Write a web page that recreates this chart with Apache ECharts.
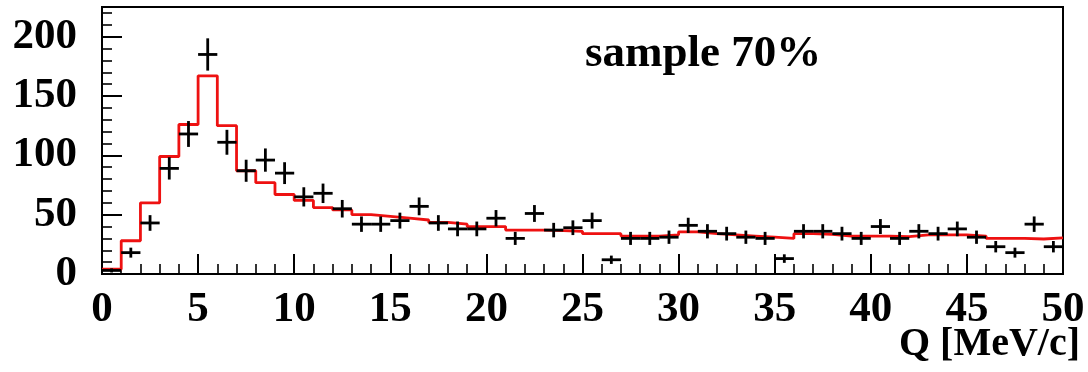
<!DOCTYPE html>
<html>
<head>
<meta charset="utf-8">
<script src="https://cdn.jsdelivr.net/npm/echarts@6/dist/echarts.min.js"></script>
<style>
  html, body { margin: 0; padding: 0; background: #fff; }
  #chart { width: 1088px; height: 372px; }
</style>
</head>
<body>
<div id="chart"></div>
<script>
// Lower edge of each 1 MeV/c bin in Q
const binLow = [0, 1, 2, 3, 4, 5, 6, 7, 8, 9, 10, 11, 12, 13, 14, 15, 16, 17, 18, 19,
  20, 21, 22, 23, 24, 25, 26, 27, 28, 29, 30, 31, 32, 33, 34, 35, 36, 37, 38, 39,
  40, 41, 42, 43, 44, 45, 46, 47, 48, 49];
const binWidth = 1;

// Measured counts per bin and their statistical uncertainties
const counts = [3, 18, 43, 89, 118, 185, 111, 87, 96, 85, 65, 68, 55, 42, 42, 45, 57, 43, 38, 38,
  47, 30, 51, 37, 39, 45, 12, 30, 30, 31, 41, 36, 34, 31, 30, 13, 36, 36, 34, 30,
  40, 30, 36, 34, 38, 31, 23, 18, 42, 23];
const countErrors = [1.7, 4.2, 6.6, 9.4, 10.9, 13.6, 10.5, 9.3, 9.8, 9.2, 8.1, 8.2, 7.4, 6.5, 6.5, 6.7, 7.5, 6.6, 6.2, 6.2,
  6.9, 5.5, 7.1, 6.1, 6.2, 6.7, 3.5, 5.5, 5.5, 5.6, 6.4, 6.0, 5.8, 5.6, 5.5, 3.6, 6.0, 6.0, 5.8, 5.5,
  6.3, 5.5, 6.0, 5.8, 6.2, 5.6, 4.8, 4.2, 6.5, 4.8];

// Model expectation per bin (red histogram)
const modelValues = [4, 28, 60, 99, 126, 167, 125, 87, 77, 67, 62, 56, 54, 50, 48.5, 47, 45.5, 43.5, 42, 40,
  40, 37, 37, 36.5, 36, 34, 34, 32, 32, 33, 35.5, 34, 33, 32, 31, 30, 34, 33.5, 32, 32,
  32, 31.5, 33, 33, 33, 32, 30, 30, 29.5, 30.5];

// Axis tick labels
const xTickLabels = [0, 5, 10, 15, 20, 25, 30, 35, 40, 45, 50];
const yTickLabels = [0, 50, 100, 150, 200];

const labelFont = { fontFamily: 'Liberation Serif', fontWeight: 'bold', fontSize: 43, lineHeight: 43, color: '#000' };

// Step outline: left edge of every bin, closed at the right edge of the last bin
const histLine = binLow.map((x, i) => [x, modelValues[i]]);
histLine.push([binLow[binLow.length - 1] + binWidth, modelValues[modelValues.length - 1]]);

const points = binLow.map((x, i) => [x + binWidth / 2, counts[i], countErrors[i]]);

const chart = echarts.init(document.getElementById('chart'), null, { renderer: 'canvas' });

chart.setOption({
  animation: false,
  backgroundColor: '#fff',
  grid: {
    left: 102, right: 25, top: 7, bottom: 98,
    containLabel: false, outerBoundsMode: 'none',
    show: true, borderColor: '#000', borderWidth: 2, backgroundColor: 'transparent'
  },
  xAxis: {
    type: 'value', min: 0, max: 50, interval: 5,
    axisLine: { show: true, onZero: false, lineStyle: { color: '#000', width: 2 } },
    axisTick: { show: true, inside: true, length: 20, lineStyle: { color: '#000', width: 2 } },
    minorTick: { show: true, splitNumber: 5, length: 10, lineStyle: { color: '#000', width: 1.6 } },
    splitLine: { show: false }, minorSplitLine: { show: false },
    axisLabel: Object.assign({
      margin: 14, showMinLabel: true, showMaxLabel: true, hideOverlap: false,
      formatter: v => (xTickLabels.includes(v) ? String(v) : '')
    }, labelFont)
  },
  yAxis: [
    {
      // minor ticks every 10
      type: 'value', min: 0, max: 225, interval: 10, position: 'left',
      axisLine: { show: true, onZero: false, lineStyle: { color: '#000', width: 2 } },
      axisTick: { show: true, inside: true, length: 10, lineStyle: { color: '#000', width: 1.6 } },
      axisLabel: { show: false },
      splitLine: { show: false }
    },
    {
      // major ticks and labels every 50
      type: 'value', min: 0, max: 225, interval: 50, position: 'left', offset: 0,
      axisLine: { show: true, onZero: false, lineStyle: { color: '#000', width: 2 } },
      axisTick: { show: true, inside: true, length: 20, lineStyle: { color: '#000', width: 2 } },
      axisLabel: Object.assign({
        margin: 25, showMinLabel: true, showMaxLabel: false, hideOverlap: false,
        formatter: v => (yTickLabels.includes(v) ? String(v) : '')
      }, labelFont),
      splitLine: { show: false }
    }
  ],
  series: [
    {
      name: 'model',
      type: 'line',
      yAxisIndex: 0,
      step: 'end',
      data: histLine,
      symbol: 'none',
      lineStyle: { color: '#ee1111', width: 2.8 },
      z: 2
    },
    {
      name: 'data',
      type: 'custom',
      yAxisIndex: 0,
      data: points,
      z: 3,
      renderItem: function (params, api) {
        const x = api.value(0), y = api.value(1), e = api.value(2);
        const pL = api.coord([x - binWidth / 2, y]);
        const pR = api.coord([x + binWidth / 2, y]);
        const pT = api.coord([x, y + e]);
        const pB = api.coord([x, y - e]);
        const style = { stroke: '#000', lineWidth: 2.8 };
        return {
          type: 'group',
          children: [
            { type: 'line', shape: { x1: pL[0], y1: pL[1], x2: pR[0], y2: pR[1] }, style: style },
            { type: 'line', shape: { x1: pT[0], y1: pT[1], x2: pB[0], y2: pB[1] }, style: style }
          ]
        };
      }
    }
  ],
  graphic: [
    {
      type: 'text', left: 585, top: 32,
      style: { text: 'sample 70%', font: 'bold 45px "Liberation Serif"', fill: '#000' }
    },
    {
      type: 'text', right: 8, top: 325,
      style: { text: 'Q [MeV/c]', font: 'bold 40px "Liberation Serif"', fill: '#000' }
    }
  ]
});
</script>
</body>
</html>
